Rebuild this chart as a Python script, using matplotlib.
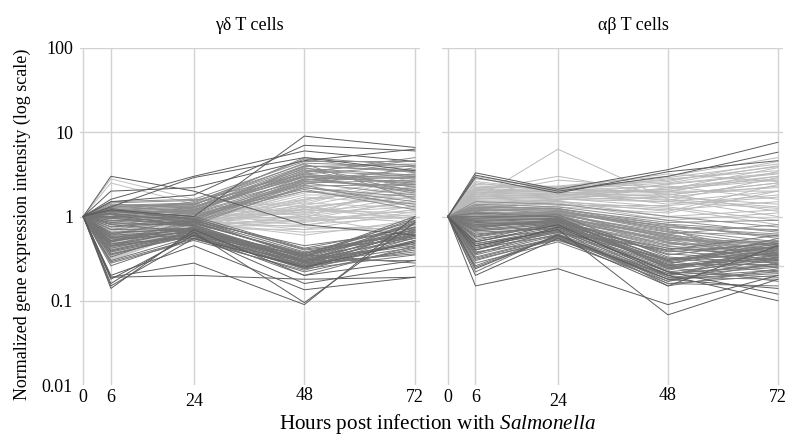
import matplotlib
matplotlib.use("Agg")
import matplotlib.pyplot as plt
import matplotlib.transforms as mtransforms

plt.rcParams['font.family'] = ['Liberation Serif', 'DejaVu Serif']
plt.rcParams['mathtext.fontset'] = 'custom'
plt.rcParams['mathtext.it'] = 'Liberation Serif:italic'
plt.rcParams['mathtext.rm'] = 'Liberation Serif'

hours = [0, 6, 24, 48, 72]
y_ticks = [0.01, 0.1, 1, 10, 100]
y_tick_labels = ["0.01", "0.1", "1", "10", "100"]
titles = ["γδ T cells", "αβ T cells"]

# values at 6, 24, 48, 72 h (0 h normalized to 1)
gd_down = [
    [0.45, 0.70, 0.30, 0.55], [0.50, 0.75, 0.32, 0.60], [0.40, 0.65, 0.28, 0.50],
    [1.10, 0.85, 0.35, 0.70], [1.20, 0.90, 0.38, 0.65], [0.95, 0.80, 0.30, 0.45],
    [0.55, 0.60, 0.25, 0.40], [0.35, 0.62, 0.27, 0.75], [0.30, 0.58, 0.24, 0.35],
    [0.70, 0.72, 0.33, 0.80], [0.60, 0.68, 0.36, 0.90], [1.00, 0.95, 0.40, 0.55],
    [0.85, 0.78, 0.29, 0.48], [0.48, 0.55, 0.22, 0.42], [0.42, 0.66, 0.31, 0.62],
    [1.15, 1.00, 0.42, 0.75], [0.52, 0.74, 0.26, 0.38], [0.38, 0.60, 0.20, 0.45],
    [0.65, 0.70, 0.34, 1.00], [0.90, 0.82, 0.37, 0.58], [0.28, 0.52, 0.23, 0.52],
    [0.75, 0.88, 0.45, 0.68], [0.58, 0.64, 0.30, 0.30], [1.05, 0.76, 0.28, 0.85],
    [0.45, 0.58, 0.35, 0.28], [0.33, 0.70, 0.25, 0.60], [1.25, 0.92, 0.33, 0.95],
    [0.80, 0.66, 0.24, 0.72], [0.26, 0.56, 0.29, 0.88],
    [0.47, 0.69, 0.29, 0.58], [0.56, 0.71, 0.31, 0.47], [1.08, 0.87, 0.34, 0.66],
    [0.39, 0.63, 0.26, 0.52], [0.44, 0.61, 0.27, 0.43], [0.82, 0.79, 0.32, 0.74],
    [0.51, 0.67, 0.30, 0.64], [0.36, 0.59, 0.24, 0.56], [0.98, 0.84, 0.36, 0.82],
    [0.63, 0.73, 0.28, 0.36], [0.29, 0.54, 0.26, 0.68], [1.18, 0.94, 0.41, 0.60],
]
gd_up = [
    [1.10, 1.20, 3.0, 2.5], [1.20, 1.30, 3.5, 3.0], [1.00, 1.10, 2.8, 2.0],
    [1.30, 1.40, 4.0, 3.5], [0.90, 1.00, 2.5, 1.8], [1.15, 1.25, 3.2, 4.0],
    [0.50, 0.90, 2.7, 3.2], [0.45, 0.85, 2.2, 1.5], [1.50, 1.60, 4.5, 4.5],
    [1.05, 1.15, 3.8, 2.2], [0.95, 1.05, 2.4, 3.8], [1.25, 1.35, 5.0, 4.0],
    [0.60, 0.95, 3.0, 2.8], [1.10, 1.50, 4.2, 1.6], [0.80, 1.00, 2.0, 1.4],
    [1.40, 1.30, 2.9, 2.6], [1.00, 1.20, 3.3, 5.0], [0.70, 0.90, 2.6, 3.0],
    [1.20, 1.10, 3.6, 2.0], [0.55, 0.80, 2.3, 2.4], [1.35, 1.45, 4.8, 3.3],
    [1.00, 1.30, 3.9, 4.2], [0.85, 1.05, 2.1, 1.2], [1.18, 1.22, 2.7, 3.6],
    [1.12, 1.18, 3.1, 2.9], [0.98, 1.08, 2.6, 2.3], [1.28, 1.38, 4.3, 3.9],
    [0.62, 0.92, 2.8, 2.1], [1.06, 1.16, 3.4, 4.6], [0.88, 0.98, 2.2, 1.7],
    [1.22, 1.28, 3.7, 3.1], [0.52, 0.86, 2.5, 2.7], [1.32, 1.42, 3.0, 1.9],
    [0.94, 1.12, 4.0, 3.4], [0.76, 0.96, 2.35, 1.3], [1.45, 1.55, 3.2, 2.4],
]
gd_flat = [
    [0.35, 0.75, 1.0, 1.5], [0.40, 0.80, 1.2, 2.0], [0.30, 0.70, 0.9, 1.2],
    [0.45, 0.85, 1.5, 2.5], [0.50, 0.90, 1.8, 1.8], [0.60, 0.95, 0.8, 1.0],
    [0.38, 0.78, 1.3, 0.9], [0.32, 0.72, 0.7, 0.8], [0.55, 1.00, 1.1, 1.3],
    [0.70, 1.05, 1.6, 2.2], [0.42, 0.82, 2.0, 1.6], [0.48, 0.88, 0.75, 0.7],
    [0.36, 0.76, 1.4, 3.0], [0.65, 0.92, 1.0, 0.6], [1.20, 1.10, 1.2, 1.1],
    [0.52, 0.86, 0.6, 0.9], [0.44, 0.80, 1.7, 1.4], [0.58, 0.98, 0.95, 2.8],
    [0.34, 0.74, 1.25, 1.9], [0.62, 1.02, 0.85, 1.2], [2.80, 1.60, 1.3, 1.7],
    [2.50, 1.40, 1.1, 2.1],
    [0.46, 0.84, 1.15, 1.45], [0.39, 0.79, 0.88, 1.05], [0.54, 0.94, 1.35, 2.3],
    [0.31, 0.71, 1.05, 1.75], [0.67, 1.00, 1.45, 1.25], [0.43, 0.83, 0.65, 0.75],
    [0.57, 0.96, 1.9, 2.6], [0.37, 0.77, 0.78, 1.35], [0.49, 0.87, 1.22, 0.95],
    [0.61, 0.99, 1.55, 3.2], [0.41, 0.81, 0.92, 1.6], [0.53, 0.91, 0.7, 1.15],
    [0.33, 0.73, 1.6, 2.1], [0.72, 1.08, 1.05, 0.85], [0.47, 0.89, 1.3, 1.0],
]
gd_extreme = [
    [3.0, 2.0, 0.80, 0.60], [1.6, 3.0, 6.0, 4.5], [1.3, 2.9, 5.0, 3.5],
    [1.2, 1.0, 9.0, 6.6], [1.5, 1.8, 7.0, 6.0], [2.0, 2.2, 4.6, 6.3],
    [0.19, 0.28, 0.09, 1.0], [0.16, 0.65, 0.095, 0.85], [0.19, 0.20, 0.18, 0.19],
    [0.20, 0.45, 0.135, 0.19], [0.14, 0.70, 0.20, 0.30], [0.15, 0.55, 0.25, 0.50],
    [0.18, 0.60, 0.16, 0.26],
]

ab_down = [
    [0.35, 0.60, 0.20, 0.25], [0.40, 0.65, 0.22, 0.30], [0.30, 0.55, 0.18, 0.22],
    [0.45, 0.70, 0.25, 0.35], [0.50, 0.75, 0.28, 0.40], [0.25, 0.58, 0.16, 0.20],
    [0.22, 0.62, 0.17, 0.28], [0.60, 0.80, 0.30, 0.45], [0.70, 0.85, 0.32, 0.25],
    [0.80, 0.90, 0.35, 0.50], [0.90, 0.95, 0.26, 0.32], [1.00, 1.00, 0.24, 0.38],
    [0.65, 0.72, 0.19, 0.18], [0.55, 0.68, 0.23, 0.42], [0.38, 0.52, 0.21, 0.27],
    [0.28, 0.50, 0.17, 0.33], [0.75, 0.88, 0.29, 0.22], [0.85, 0.78, 0.27, 0.55],
    [0.48, 0.66, 0.31, 0.36], [0.42, 0.60, 0.16, 0.15], [0.95, 1.05, 0.33, 0.28],
    [0.62, 0.74, 0.38, 0.48], [0.33, 0.57, 0.20, 0.40], [0.58, 0.82, 0.22, 0.19],
    [0.72, 0.92, 0.36, 0.30], [1.10, 0.98, 0.30, 0.44], [0.45, 0.64, 0.40, 0.60],
    [0.36, 0.70, 0.15, 0.24], [0.52, 0.86, 0.25, 0.17], [0.68, 0.76, 0.42, 0.34],
    [0.37, 0.62, 0.21, 0.26], [0.43, 0.67, 0.24, 0.31], [0.32, 0.56, 0.19, 0.23],
    [0.47, 0.72, 0.26, 0.37], [0.26, 0.59, 0.18, 0.21], [0.57, 0.78, 0.29, 0.43],
    [0.67, 0.83, 0.27, 0.27], [0.77, 0.87, 0.31, 0.47], [0.87, 0.93, 0.25, 0.33],
    [0.31, 0.53, 0.20, 0.35],
]
ab_mid = [
    [0.90, 0.95, 0.60, 0.45], [1.00, 1.10, 0.55, 0.40], [1.20, 1.20, 0.70, 0.50],
    [0.85, 0.90, 0.50, 0.35], [1.10, 1.05, 0.65, 0.60], [0.95, 1.00, 0.45, 0.30],
    [1.30, 1.25, 0.80, 0.55], [0.80, 0.85, 0.48, 0.42], [1.05, 1.15, 0.75, 0.70],
    [0.75, 0.88, 0.42, 0.38], [1.15, 1.00, 0.58, 0.32], [1.40, 1.30, 0.90, 0.65],
    [0.70, 0.80, 0.40, 0.28], [1.00, 0.92, 0.52, 0.48], [1.25, 1.18, 0.68, 0.36],
    [0.88, 0.96, 0.62, 0.80], [1.50, 1.40, 1.00, 0.75], [0.92, 1.08, 0.56, 0.44],
    [1.08, 1.12, 0.72, 0.26], [0.78, 0.84, 0.46, 0.52], [1.35, 1.22, 0.85, 0.90],
    [0.98, 1.02, 0.50, 0.34],
    [0.93, 0.97, 0.57, 0.41], [1.02, 1.06, 0.62, 0.37], [1.18, 1.16, 0.66, 0.46],
    [0.83, 0.89, 0.53, 0.33], [1.12, 1.08, 0.78, 0.58], [0.96, 1.04, 0.49, 0.29],
    [1.28, 1.24, 0.74, 0.62], [0.82, 0.86, 0.44, 0.39], [1.06, 1.14, 0.81, 0.68],
    [0.74, 0.86, 0.39, 0.31], [1.22, 1.10, 0.60, 0.35], [0.90, 0.94, 0.54, 0.50],
]
ab_up = [
    [1.50, 1.60, 1.5, 2.0], [1.80, 1.90, 2.0, 3.0], [2.00, 2.10, 2.5, 4.0],
    [1.30, 1.40, 1.2, 1.5], [2.50, 2.00, 2.8, 3.5], [1.60, 1.70, 1.8, 2.5],
    [1.20, 1.50, 1.0, 1.2], [2.20, 2.30, 3.0, 5.0], [1.70, 1.80, 1.6, 1.0],
    [1.40, 1.55, 2.2, 2.8], [3.00, 2.10, 1.9, 2.2], [1.90, 2.00, 1.4, 1.8],
    [1.10, 1.30, 1.1, 2.0], [2.40, 2.20, 2.6, 4.5], [1.55, 1.65, 1.3, 0.9],
    [1.75, 1.85, 2.4, 3.2], [2.10, 1.95, 1.7, 1.4], [1.25, 1.45, 0.9, 1.1],
    [1.65, 1.75, 2.1, 3.8], [2.80, 2.20, 3.2, 2.6], [1.35, 1.50, 1.25, 0.8],
    [1.95, 2.05, 2.3, 1.6], [1.60, 6.30, 1.6, 1.3], [2.00, 3.00, 1.8, 2.5],
    [1.80, 2.70, 2.2, 3.0],
    [1.45, 1.58, 1.7, 2.3], [1.85, 1.92, 2.1, 2.7], [2.05, 2.15, 1.95, 3.4],
    [1.15, 1.35, 1.35, 1.7], [2.30, 2.10, 2.9, 4.2], [1.62, 1.72, 1.5, 1.25],
    [1.28, 1.52, 1.15, 2.4], [2.15, 2.25, 2.7, 3.9], [1.72, 1.82, 1.85, 1.15],
    [1.38, 1.58, 2.45, 3.3], [2.60, 2.05, 2.0, 2.0], [1.92, 1.98, 1.55, 2.9],
]
ab_extreme = [
    [3.3, 2.1, 3.6, 7.6], [3.1, 2.0, 3.0, 5.8], [2.9, 1.9, 3.4, 4.6],
    [0.15, 0.24, 0.09, 0.20], [0.45, 0.70, 0.068, 0.18], [0.50, 0.80, 0.20, 0.10],
    [0.40, 0.75, 0.22, 0.12], [0.20, 0.55, 0.15, 0.45], [0.24, 0.60, 0.18, 0.14],
]

panels = [
    [(gd_flat, "#c0c0c0"), (gd_up, "#8c8c8c"), (gd_down, "#747474"), (gd_extreme, "#5c5c5c")],
    [(ab_up, "#bababa"), (ab_mid, "#909090"), (ab_down, "#767676"), (ab_extreme, "#5c5c5c")],
]

fig = plt.figure(figsize=(8.0, 4.41), dpi=100)
ax1 = fig.add_axes([80 / 800, 1 - 385 / 441, 340 / 800, 337 / 441])
ax2 = fig.add_axes([442 / 800, 1 - 385 / 441, 341 / 800, 337 / 441])
axes = [ax1, ax2]

grid_c = "#d2d2d2"
for i, ax in enumerate(axes):
    ax.set_yscale("log")
    ax.set_ylim(0.01, 100)
    if i == 0:
        ax.set_xlim(-0.7, 73.1)
    else:
        ax.set_xlim(-1.3, 73.1)
    for s in ax.spines.values():
        s.set_visible(False)
    ax.set_xticks(hours)
    ax.set_xticklabels([str(h) for h in hours], fontsize=13)
    ax.tick_params(axis="both", length=0, pad=3)
    ax.minorticks_off()
    ax.set_yticks(y_ticks)
    for h in hours:
        ax.axvline(h, color=grid_c, lw=1.0, zorder=0)
    gl = [0.1, 1, 10, 100] if i == 0 else [1, 10, 100]
    for v in gl:
        ax.axhline(v, color=grid_c, lw=1.0, zorder=0)
    if i == 0:
        ax.set_yticklabels(y_tick_labels, fontsize=13)
        ax.tick_params(axis="y", pad=5)
    else:
        ax.set_yticklabels([])
        ax.axhline(0.26, xmin=-0.08, xmax=1.0, color=grid_c, lw=1.0, zorder=0, clip_on=False)
    for group, col in panels[i]:
        for row in group:
            ax.plot(hours, [1.0] + list(row), color=col, lw=0.7, zorder=2)
    # staggered tick labels as in the original
    for lab in ax.get_xticklabels():
        t = lab.get_text()
        dy = 0
        if t == "24":
            dy = -4
        elif t == "48":
            dy = 2
        lab.set_transform(lab.get_transform() + mtransforms.ScaledTranslation(0, dy / 100, fig.dpi_scale_trans))

fig.text(249 / 800, 1 - 26 / 441, titles[0], ha="center", va="center", fontsize=13)
fig.text(633 / 800, 1 - 26 / 441, titles[1], ha="center", va="center", fontsize=13)
fig.text(22 / 800, 1 - 224 / 441, "Normalized gene expression intensity (log scale)",
         rotation=90, ha="center", va="center", fontsize=13)
fig.text(437 / 800, 1 - 424 / 441, "Hours post infection with $\\mathit{Salmonella}$",
         ha="center", va="center", fontsize=15.2)

fig.savefig("out.png", dpi=100)
